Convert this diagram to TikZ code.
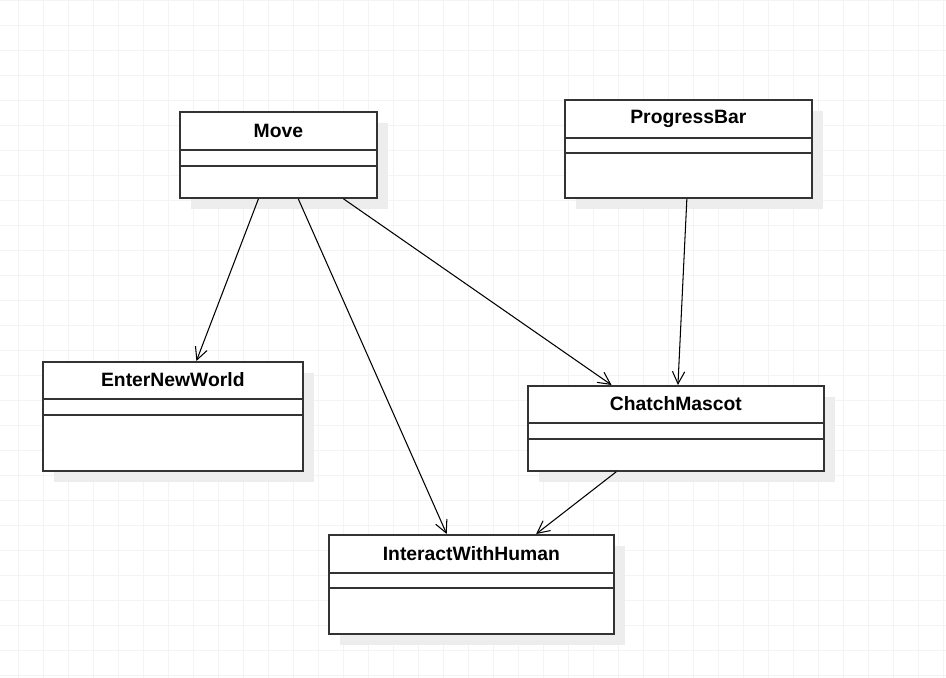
\documentclass[tikz,border=0pt]{standalone}
\usepackage{fontspec}
\setmainfont{Liberation Sans}
\definecolor{gridgray}{RGB}{244, 244, 244}
\definecolor{shadowgray}{RGB}{237, 237, 237}
\definecolor{edgegray}{RGB}{51, 51, 51}
\usetikzlibrary{arrows.meta, calc, shadows}

\begin{document}
\begin{tikzpicture}[
  x=0.02cm, y=0.02cm,
  cls/.style={draw=edgegray, line width=1pt, fill=white, anchor=north west, inner sep=0pt,
    drop shadow={shadow xshift=0.22cm, shadow yshift=-0.22cm, fill=shadowgray, opacity=1}},
  clstitle/.style={font=\fontsize{11}{13}\selectfont\bfseries, inner sep=0pt},
  divider/.style={draw=edgegray, line width=1pt},
  dep/.style={draw=black, line width=0.6pt, -{Straight Barb[length=7pt, width=7pt]}},
]
  \useasboundingbox (0,0) rectangle (946,678);
  % background grid
  \foreach \gx in {18,43,...,943} \draw[gridgray, line width=0.5pt] (\gx,0) -- (\gx,678);
  \foreach \gy in {3,28,...,678} \draw[gridgray, line width=0.5pt] (0,\gy) -- (946,\gy);

  % classes
  \node[cls, minimum width=3.94cm, minimum height=1.72cm] (move) at (179,567) {};
  \node[clstitle] (move-title) at ($(move.north)+(0,-19.5)$) {Move};
  \draw[divider] ($(move.north west)+(0,-39)$) -- ($(move.north east)+(0,-39)$);
  \draw[divider] ($(move.north west)+(0,-55)$) -- ($(move.north east)+(0,-55)$);

  \node[cls, minimum width=4.94cm, minimum height=1.96cm] (bar) at (564,579) {};
  \node[clstitle] (bar-title) at ($(bar.north)+(0,-19.5)$) {ProgressBar};
  \draw[divider] ($(bar.north west)+(0,-39)$) -- ($(bar.north east)+(0,-39)$);
  \draw[divider] ($(bar.north west)+(0,-54)$) -- ($(bar.north east)+(0,-54)$);

  \node[cls, minimum width=5.2cm, minimum height=2.18cm] (world) at (42,317) {};
  \node[clstitle] (world-title) at ($(world.north)+(0,-19)$) {EnterNewWorld};
  \draw[divider] ($(world.north west)+(0,-38)$) -- ($(world.north east)+(0,-38)$);
  \draw[divider] ($(world.north west)+(0,-54)$) -- ($(world.north east)+(0,-54)$);

  \node[cls, minimum width=5.92cm, minimum height=1.7cm] (mascot) at (527,293) {};
  \node[clstitle] (mascot-title) at ($(mascot.north)+(0,-19)$) {ChatchMascot};
  \draw[divider] ($(mascot.north west)+(0,-38)$) -- ($(mascot.north east)+(0,-38)$);
  \draw[divider] ($(mascot.north west)+(0,-54)$) -- ($(mascot.north east)+(0,-54)$);

  \node[cls, minimum width=5.7cm, minimum height=1.98cm] (human) at (328,144) {};
  \node[clstitle] (human-title) at ($(human.north)+(0,-19.5)$) {InteractWithHuman};
  \draw[divider] ($(human.north west)+(0,-39)$) -- ($(human.north east)+(0,-39)$);
  \draw[divider] ($(human.north west)+(0,-54)$) -- ($(human.north east)+(0,-54)$);

  % dependencies
  \draw[dep] ($(move.south west)!0.40!(move.south east)$) -- ($(world.north west)!0.59!(world.north east)$);
  \draw[dep] ($(move.south west)!0.60!(move.south east)$) -- ($(human.north west)!0.414!(human.north east)$);
  \draw[dep] ($(move.south west)!0.827!(move.south east)$) -- ($(mascot.north west)!0.284!(mascot.north east)$);
  \draw[dep] ($(bar.south west)!0.494!(bar.south east)$) -- ($(mascot.north west)!0.507!(mascot.north east)$);
  \draw[dep] ($(mascot.south west)!0.30!(mascot.south east)$) -- ($(human.north west)!0.726!(human.north east)$);
\end{tikzpicture}
\end{document}
